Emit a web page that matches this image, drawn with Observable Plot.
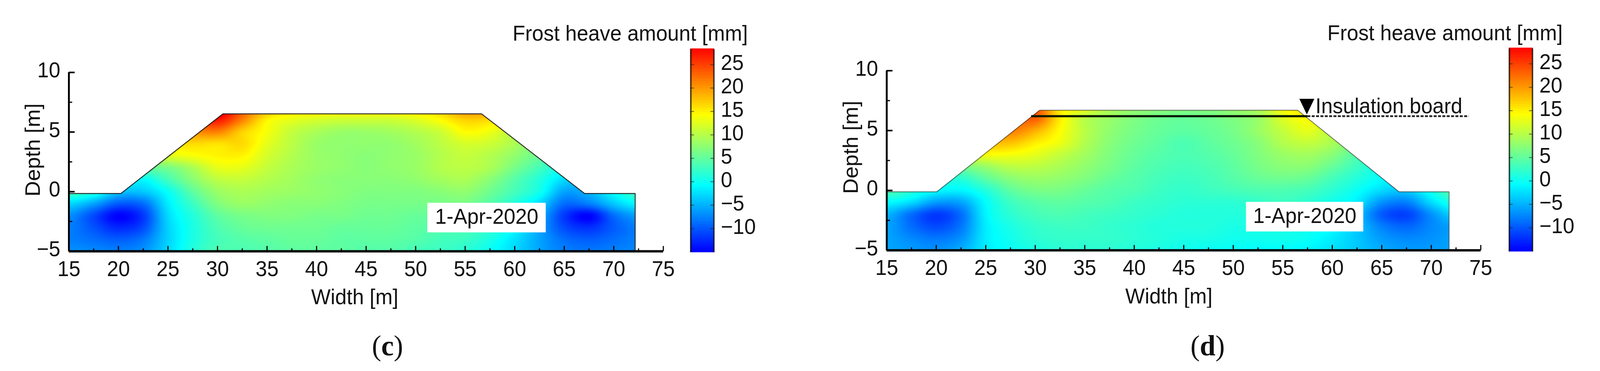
<!DOCTYPE html>
<html>
<head>
<meta charset="utf-8">
<script src="https://cdn.jsdelivr.net/npm/d3@7"></script>
<script src="https://cdn.jsdelivr.net/npm/@observablehq/plot@0.6"></script>
<style>
html,body{margin:0;padding:0;background:#fff;}
body{height:950px;overflow:hidden;}
#stage{position:absolute;left:0;top:0;width:4261px;height:950px;font-family:"Liberation Sans",Arial,sans-serif;transform-origin:0 0;}
#stage>*{position:absolute;}
.ttl{font-size:55px;white-space:nowrap;color:#111;line-height:normal;}
.cap{font-family:"Liberation Serif",serif;font-size:75px;white-space:nowrap;transform:translateX(-50%);color:#111;line-height:normal;}
.cap b{font-weight:700;}
</style>
</head>
<body>
<div id="stage"></div>
<script>
// ---- data ----
const xNodes = [15,17.5,20,22.5,25,27.5,30,32.5,35,37.5,40,42.5,45,47.5,50,52.5,55,57.5,60,62.5,65,67.5,70,72.5];
const yNodes = [7,6,5,4,3,2,1,0,-1,-2,-3,-4,-5];
const heaveC = [
 [16,18,20,22,26,29,31,24,19,16.5,16,15.5,15.5,15.5,16.5,17.5,21,21,19,16,14,10,8,6],
 [10,10,12,16,20,24,27,21,14.5,12.5,11.5,11,11,11,12,14,16.5,16,15,13,10,8,6,6],
 [8,8,10,14,18,20,21,16.5,13.5,10.5,9,8,8,8.5,9.5,11,14,13,10,9,7,5,5,5],
 [8,8,8,12,15,16,15.5,16,12.5,10,8,7.5,7.5,7.5,8.5,10,11.5,11,9,6,4,3,3,3],
 [6,6,6,9,12,13.5,14.5,14.5,11.5,9.5,8,7.5,7,7.5,8,9.5,10.5,9.5,7.5,5,2,1,1,1],
 [4,4,3,5,6,9,12.5,12.5,10.5,9,8,7.5,7,7.5,8,9.5,10,9,6,3,0,-1,0,0],
 [3,3,0,-1,3,7,10,10.5,9.5,8.5,7.5,7,7,7,7.5,8.5,9,7,4,1,-3,-4,-2,1],
 [3,1,-4,-4,-0.5,4.5,8,9,8.5,8,7.5,7,6.5,6.5,6.5,7,7.5,5.5,3,0,-6,-5,-1,3],
 [-3,-6,-10,-9,-2,2.5,6.5,8,7.5,7,7,6.5,6,6,6,6,6,4,1,-3,-9,-8,-4,-1],
 [-7,-11,-15,-12,-3,1,4.5,6,6.5,6.5,6,6,5.5,5.5,5,5,4.5,3,0,-5,-12,-15,-9,-6],
 [-8,-10.5,-13,-11,-3.5,0.5,3.5,5,5.5,5.5,5.5,5,5,5,4.5,4,3.5,2,-1,-6,-11,-12.5,-10,-8],
 [-8,-9,-10,-8.5,-3.5,0.5,3,4,4.5,5,5,4.5,4.5,4.5,4,3,2.5,0.5,-2.5,-6,-9,-10,-9,-8],
 [-7,-7.5,-8,-7,-3,1,3.5,3.5,4,4.5,4.5,4.5,4,4,3,2.5,1.5,-0.5,-3,-6,-8,-8.5,-8,-7.5]
];
const heaveD = [
 [14,16,18,20,22,24,24,15,13,9.5,8,7.5,7,7,8,9.5,14,17,18,16,12,8,8,8],
 [8,10,12,15,18,21,23,15,10,8,6.5,5.5,5,5.5,6.5,8,12,14,13,11,8,5,5,5],
 [8,8,10,13,17,21,18.5,14,10,7.5,6,5,4.5,5,6,8,10.5,12.5,10,8,6,4,4,4],
 [8,8,8,12,17,17.5,15,13,9.5,7,5.5,4.5,3.5,4.5,5.5,7,9.5,10.5,9,6,4,3,3,3],
 [7,7,7,11,13.5,13.5,12.5,10.5,8.5,6.5,5,4,3.5,4,5,6.5,8,8.5,7,4,2,1,2,2],
 [6,6,5,6,8,10,10,9,7.5,6,4.5,3.5,3,3.5,4.5,6,7,7,5,2.5,0,0,2,3],
 [6,4,2,1.5,4.5,7,8,7.5,6.5,5,4,3,2.5,3,4,5,5.5,5,3,1,-1,-3,1,4],
 [4,1.5,-1,-1.5,1,4.5,6,6,5,4,3.5,2.5,2,2.5,3,3.5,3.5,3,1.5,-0.5,-3,-4,0,5],
 [-1,-3,-6.5,-6,-1,2.5,4,4.5,4,3.5,2.5,2,1.5,1.5,1.5,2,2.5,1.5,0,-2,-7,-8,-3,1],
 [-5,-9,-12,-9,-1.5,1.5,3,3.5,3,2.5,2,1.5,1,1,1,1,1,0.5,-1,-4,-10,-11.5,-7,-3],
 [-6,-9,-11,-8.5,-2,0.5,2,2.5,2.5,2,1.5,1,1,1,0.5,0.5,0.5,0,-1,-4,-8,-9.5,-7.5,-6],
 [-6,-7.5,-8.5,-7,-2,0,1.5,2,2,2,1.5,1,0.5,0.5,0,0,0,-0.5,-2,-4,-6.5,-7.5,-7,-6],
 [-6,-6.5,-7,-5.5,-2,-0.5,0.5,1.5,1.5,1.5,1,0.5,0,-0.5,-0.5,-1,-1,-1.5,-2.5,-4,-5.5,-6.5,-6.5,-6]
];
const surfaceXC = [15,20.25,30.55,56.65,67.05,72.16];
const surfaceYC = [-0.15,-0.15,6.53,6.53,-0.15,-0.15];
const surfaceXD = [15,20.05,30.45,56.5,66.75,71.8];
const surfaceYD = [-0.12,-0.12,6.7,6.7,-0.12,-0.12];
const xMajor = [15,20,25,30,35,40,45,50,55,60,65,70,75];
const xMinor = [17.5,22.5,27.5,32.5,37.5,42.5,47.5,52.5,57.5,62.5,67.5,72.5];
const yMajor = [-5,0,5,10];
const yMinor = [-2.5,2.5,7.5];
const barTicks = [-10,-5,0,5,10,15,20,25];
const colorStops = [-15.1,-1,6.5,14,28.25];
const colorRange = ["#0000ff","#00ffff","#80ff80","#ffff00","#ff0000"];
const barValues = d3.range(0,87).map(i=>-15.1+i*0.5);
const titleText = "Frost heave amount [mm]";
const dateText = "1-Apr-2020";
const boardText = "Insulation board";
const boardX = [29.6,57.5];
const boardDotX = [57.5,73.8];
const boardY = 6.2;
const boardMarker = {x:57.43,y:7.0};

// ---- helpers ----
const colorScale = {type:"linear",domain:colorStops,range:colorRange,interpolate:"rgb",clamp:true};
const minus = d=>String(d).replace("-","−");
const fontStyle = {fontFamily:'"Liberation Sans",Arial,sans-serif',fontSize:"55px",color:"#111",background:"transparent",overflow:"visible"};
const downTriangle = {draw(ctx,size){const r=Math.sqrt(size/Math.PI);ctx.moveTo(-r,-r);ctx.lineTo(r,-r);ctx.lineTo(0,r);ctx.closePath();}};
function cr(a,b,c,d,t){return 0.5*(2*b+(c-a)*t+(2*a-5*b+4*c-d)*t*t+(3*b-a-3*c+d)*t*t*t);}
function sampler(grid){
  const nx=xNodes.length, ny=yNodes.length;
  const at=(j,i)=>grid[Math.max(0,Math.min(ny-1,j))][Math.max(0,Math.min(nx-1,i))];
  return (x,y)=>{
    const gx=(x-xNodes[0])/(xNodes[1]-xNodes[0]), gy=(yNodes[0]-y)/(yNodes[0]-yNodes[1]);
    const i=Math.floor(gx), j=Math.floor(gy), tx=gx-i, ty=gy-j;
    const row=k=>cr(at(k,i-1),at(k,i),at(k,i+1),at(k,i+2),tx);
    return cr(row(j-1),row(j),row(j+1),row(j+2),ty);
  };
}
const stage=document.getElementById("stage");
// the window can be narrower than the 4261 px layout: fit the whole figure to its width
stage.style.transform="scaleX("+Math.min(1,document.documentElement.clientWidth/4261)+")";
function place(el,l,t){el.style.left=l+"px";el.style.top=t+"px";stage.appendChild(el);return el;}
function div(cls,html,l,t){const d=document.createElement("div");d.className=cls;d.innerHTML=html;return place(d,l,t);}

function panel(o){
  const surface=o.sx.map((x,i)=>({x,y:o.sy[i]}));
  const right=o.sx[o.sx.length-1], crest=Math.max(...o.sy);
  const outline=[...surface,{x:right,y:-5}];
  const mask=[...surface,{x:right+0.3,y:o.sy[o.sy.length-1]}];
  return Plot.plot({
    width:o.w,height:950,marginLeft:o.l,marginRight:o.w-o.r,marginTop:o.t,marginBottom:950-o.b,
    style:fontStyle,
    x:{domain:[15,75],label:null},
    y:{domain:[-5,10],label:null},
    color:colorScale,
    marks:[
      Plot.raster({fill:sampler(o.grid),x1:15,x2:right,y1:-5,y2:crest,pixelSize:1,interpolate:null}),
      Plot.areaY(mask,{x:"x",y1:"y",y2:crest+0.2,fill:"white"}),
      Plot.line(outline,{x:"x",y:"y",stroke:"#111",strokeWidth:o.edge,strokeOpacity:o.edgeOpacity}),
      ...(o.extra||[]),
      Plot.rect([0],{x1:o.box[0],x2:o.box[1],y1:o.box[2],y2:o.box[3],fill:"white"}),
      Plot.text([dateText],{x:(o.box[0]+o.box[1])/2,y:(o.box[2]+o.box[3])/2,text:d=>d,fill:"#111",dy:-2}),
      Plot.ruleX(xMajor,{x:d=>d,y1:-5,y2:-4.57,stroke:"#000",strokeWidth:3}),
      Plot.ruleX(xMinor,{x:d=>d,y1:-5,y2:-4.77,stroke:"#000",strokeWidth:3}),
      Plot.ruleY(yMajor,{y:d=>d,x1:15,x2:15.6,stroke:"#000",strokeWidth:4}),
      Plot.ruleY(yMinor,{y:d=>d,x1:15,x2:15.35,stroke:"#000",strokeWidth:3}),
      Plot.ruleX([15],{y1:-5,y2:10,stroke:"#000",strokeWidth:5}),
      Plot.ruleY([-5],{x1:15,x2:75,stroke:"#000",strokeWidth:6}),
      Plot.axisX({ticks:xMajor,tickSize:0,tickPadding:24,label:null,fill:"#111"}),
      Plot.axisY({ticks:yMajor,tickSize:0,tickPadding:23,label:null,tickFormat:minus,fill:"#111",dy:-5}),
      Plot.text(["Width [m]"],{x:o.wx,y:-5,dy:118,text:d=>d,fill:"#111"}),
      Plot.text(["Depth [m]"],{x:15,y:o.dy,dx:-95,rotate:-90,text:d=>d,fill:"#111"})
    ]
  });
}

function colorbar(){
  const w=64;
  return Plot.plot({
    width:w+4+140,height:524,marginLeft:2,marginRight:140+2,marginTop:2,marginBottom:2,
    style:fontStyle,
    x:{domain:[0,1],axis:null},
    y:{domain:[-15.1,28.25],label:null},
    color:colorScale,
    marks:[
      Plot.rect(barValues,{x1:0,x2:1,y1:d=>d,y2:d=>d+0.52,fill:d=>d}),
      Plot.ruleX([0.02,0.98],{stroke:"#111",strokeWidth:4,strokeOpacity:0.75}),
      Plot.ruleY(barTicks,{y:d=>d,x1:0,x2:0.16,stroke:"#222",strokeWidth:2,strokeOpacity:0.7}),
      Plot.ruleY(barTicks,{y:d=>d,x1:0.84,x2:1,stroke:"#222",strokeWidth:2,strokeOpacity:0.7}),
      Plot.axisY({anchor:"right",ticks:barTicks,tickSize:0,tickPadding:17,label:null,tickFormat:minus,fill:"#111",dy:-4})
    ]
  });
}

// ---- panel (c) ----
place(panel({w:2130,l:183,r:1766,t:185,b:643,grid:heaveC,sx:surfaceXC,sy:surfaceYC,edge:2.5,edgeOpacity:0.85,
  box:[51.2,63.15,-3.43,-0.95],wx:43.85,dy:3.5}),0,0);
place(colorbar(),1836,124);
div("ttl",titleText,1365,53);
div("cap","(<b>c</b>)",1032,842);

// ---- panel (d) ----
const boardMarks=[
  Plot.ruleY([boardY],{x1:boardX[0],x2:boardX[1],stroke:"#0a1a00",strokeWidth:5.5}),
  Plot.ruleY([boardY],{x1:boardDotX[0],x2:boardDotX[1],stroke:"#222",strokeWidth:4.5,strokeDasharray:"8 3.6"}),
  Plot.dot([boardMarker],{x:"x",y:"y",r:20,symbol:downTriangle,fill:"#000",stroke:"none"}),
  Plot.text([boardText],{x:58.3,y:6.46,dy:-17.6,text:d=>d,textAnchor:"start",fill:"#111"})
];
place(panel({w:2131,l:231,r:1813,t:180.5,b:640.5,grid:heaveD,sx:surfaceXD,sy:surfaceYD,edge:2,edgeOpacity:0.6,
  box:[51.3,63.15,-3.44,-0.97],wx:43.5,dy:3.6,extra:boardMarks}),2130,0);
place(colorbar(),4016,122);
div("ttl",titleText,3535,52);
div("cap","(<b>d</b>)",3216,842);
</script>
</body>
</html>
